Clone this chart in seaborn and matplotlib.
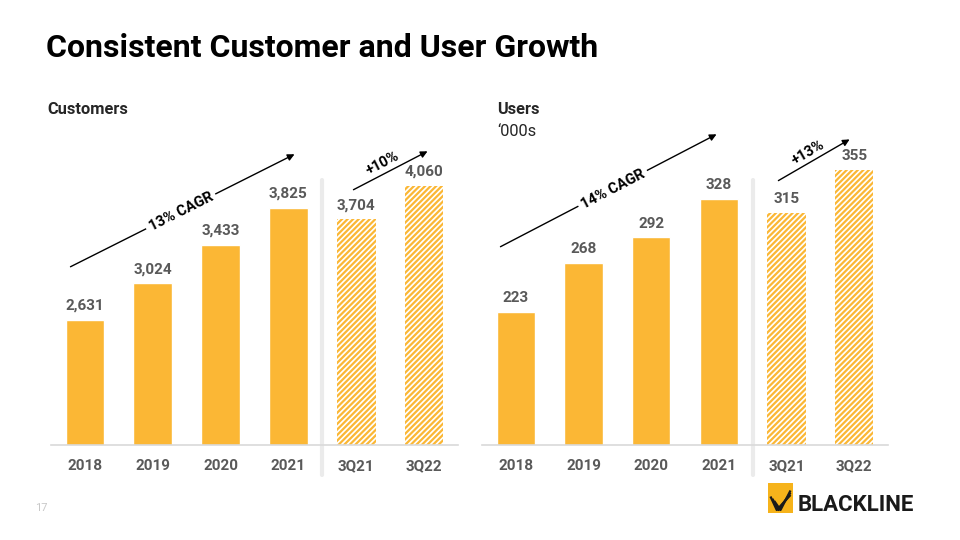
import matplotlib
matplotlib.use("Agg")
import math
import matplotlib.pyplot as plt
import seaborn as sns

# dados
periodos = ['2018', '2019', '2020', '2021', '3Q21', '3Q22']
clientes = [2631, 3024, 3433, 3825, 3704, 4060]
usuarios = [223, 268, 292, 328, 315, 355]

laranja = '#FBB735'
cinza_txt = '#595959'
W, H = 960, 540

sns.set_theme(style="white")
plt.rcParams['font.family'] = ['Roboto', 'DejaVu Sans']
plt.rcParams['hatch.linewidth'] = 1.6

fig = plt.figure(figsize=(9.6, 5.4), dpi=100)


def fx(x):
    return x / W


def fy(y):
    return 1 - y / H


def painel(rect, valores, ybaixo, ytopo, fmt):
    ax = fig.add_axes(rect)
    sns.barplot(x=periodos, y=valores, color=laranja, width=0.57,
                saturation=1, ax=ax)
    # trimestres com hachura
    for p in ax.patches[4:]:
        p.set_facecolor('white')
        p.set_edgecolor(laranja)
        p.set_hatch('//////')
        p.set_linewidth(0)
    ax.set_ylim(ybaixo, ytopo)
    ax.set_xlim(-0.5, 5.5)
    ax.bar_label(ax.containers[0], labels=[fmt(v) for v in valores],
                 padding=5, fontsize=11, fontweight='bold', color=cinza_txt)
    for s in ['top', 'right', 'left']:
        ax.spines[s].set_visible(False)
    ax.spines['bottom'].set_color('#d9d9d9')
    ax.spines['bottom'].set_linewidth(1.2)
    ax.set_yticks([])
    ax.tick_params(axis='x', length=0, pad=10, labelsize=11, labelcolor=cinza_txt)
    for t in ax.get_xticklabels():
        t.set_fontweight('bold')
    ax.set_xlabel('')
    ax.set_ylabel('')
    # separador entre anos e trimestres
    ax.axvline(3.5, ymin=-30 / 315, ymax=265 / 315, color='#ebebeb', lw=3,
               clip_on=False)
    return ax


painel([fx(51), fy(445), fx(407), 315 / H], clientes, 1298, 1298 + 315 * 10.66,
       lambda v: f'{v:,}')
painel([fx(482), fy(445), fx(406), 315 / H], usuarios, 99, 99 + 315 * 0.93,
       lambda v: f'{v}')


def seta(x0, y0, x1, y1, texto, tx, ty, fundo):
    fig.add_artist(matplotlib.patches.FancyArrowPatch(
        (fx(x0), fy(y0)), (fx(x1), fy(y1)), transform=fig.transFigure,
        arrowstyle='-|>', mutation_scale=10, color='black', lw=1))
    ang = math.degrees(math.atan2(y0 - y1, x1 - x0))
    kw = dict(boxstyle='square,pad=0.25', fc='white', ec='none') if fundo else None
    fig.text(fx(tx), fy(ty), texto, rotation=ang, rotation_mode='anchor',
             ha='center', va='center', fontsize=10.5, fontweight='bold',
             color='black', bbox=kw, zorder=5)


seta(68, 268, 297, 153, '13% CAGR', 181, 212, True)
seta(351, 191, 430, 150, '+10%', 383, 163, False)
seta(498, 248, 719, 133, '14% CAGR', 613, 189, True)
seta(776, 182, 852, 138, '+13%', 808, 153, False)

# textos
fig.text(fx(46), fy(48), 'Consistent Customer and User Growth', fontsize=23,
         fontweight='bold', color='black', va='center')
fig.text(fx(47), fy(109), 'Customers', fontsize=11.8, fontweight='bold', va='center')
fig.text(fx(497), fy(109), 'Users', fontsize=11.8, fontweight='bold', va='center')
fig.text(fx(497), fy(131), '\u2018000s', fontsize=11.8, va='center')
fig.text(fx(35), fy(508), '17', fontsize=8, color='#c8c8c8', va='center')

# logo
lg = fig.add_axes([fx(768), fy(513), fx(25), 30 / H])
lg.set_xlim(0, 1)
lg.set_ylim(0, 1)
lg.axis('off')
lg.add_patch(matplotlib.patches.Rectangle((0, 0), 1, 1, color='#F6B31B'))
for d in [0.0, 0.25, 0.5]:
    lg.plot([0.1 + d * 0.3, 0.35 + d * 0.3, 0.9], [0.55 - d * 0.3, 0.1, 0.6 + d * 0.3],
            color='#1a1a1a', lw=1.6, solid_capstyle='butt')
fig.text(fx(798), fy(505), 'BLACKLINE', fontsize=16, fontweight='bold',
         color='#1a1a1a', va='center')

fig.savefig('out.png', dpi=100, facecolor='white')
